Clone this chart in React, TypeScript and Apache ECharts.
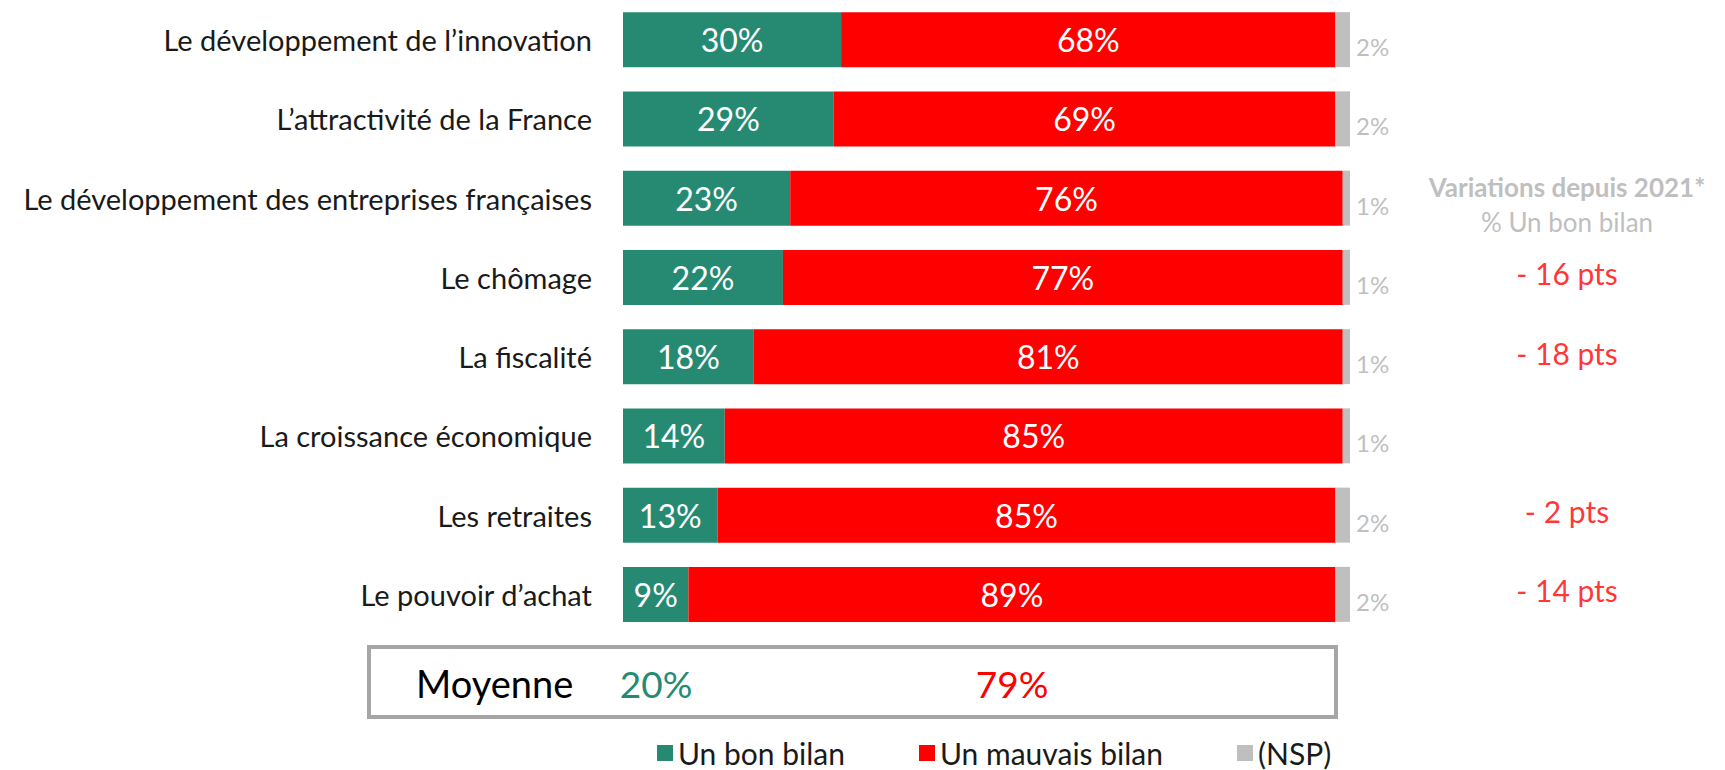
import React, { useEffect, useRef } from "react";
import * as echarts from "echarts";

const categories = [
  "Le développement de l’innovation",
  "L’attractivité de la France",
  "Le développement des entreprises françaises",
  "Le chômage",
  "La fiscalité",
  "La croissance économique",
  "Les retraites",
  "Le pouvoir d’achat",
];
const goodValues = [30, 29, 23, 22, 18, 14, 13, 9];
const badValues = [68, 69, 76, 77, 81, 85, 85, 89];
const nspValues = [2, 2, 1, 1, 1, 1, 2, 2];
const variationValues: (number | null)[] = [null, null, null, -16, -18, null, -2, -14];
const seriesNames = ["Un bon bilan", "Un mauvais bilan", "(NSP)"];
const averageLabel = "Moyenne";
const averageGood = 20;
const averageBad = 79;
const variationTitle = "Variations depuis 2021*";
const variationSubtitle = "% Un bon bilan";

const GREEN = "#268A73";
const RED = "#FF0000";
const GRAY = "#BFBFBF";
const FONT = "Lato";

export default function App() {
  const ref = useRef<HTMLDivElement>(null);
  useEffect(() => {
    if (!ref.current) return;
    const chart = echarts.init(ref.current, null, { renderer: "svg" });
    const variationData = variationValues
      .map((v, i) => (v == null ? null : [0, i, v]))
      .filter((d) => d != null);
    const option: any = {
      animation: false,
      textStyle: { fontFamily: FONT },
      grid: [
        { left: 623, width: 727, top: 0, height: 634, outerBoundsMode: "none" },
        { left: 1417, width: 300, top: 0, height: 634, outerBoundsMode: "none" },
      ],
      xAxis: [
        { type: "value", min: 0, max: 100, show: false, gridIndex: 0 },
        { type: "value", min: -1, max: 1, show: false, gridIndex: 1 },
      ],
      yAxis: [
        {
          type: "category",
          data: categories,
          inverse: true,
          gridIndex: 0,
          axisLine: { show: false },
          axisTick: { show: false },
          axisLabel: { fontFamily: FONT, fontSize: 29, color: "#1a1a1a", margin: 31 },
        },
        { type: "category", data: categories, inverse: true, gridIndex: 1, show: false },
      ],
      legend: {
        data: seriesNames,
        left: 652,
        top: 736,
        padding: [0, 5],
        icon: "rect",
        itemWidth: 16,
        itemHeight: 16,
        itemGap: 74,
        textStyle: { fontFamily: FONT, fontSize: 30, color: "#1a1a1a", lineHeight: 34 },
      },
      series: [
        {
          name: seriesNames[0],
          type: "bar",
          stack: "total",
          data: goodValues,
          barWidth: 55,
          itemStyle: { color: GREEN },
          label: {
            show: true,
            position: "inside",
            formatter: "{c}%",
            color: "#fff",
            fontFamily: FONT,
            fontSize: 32,
          },
        },
        {
          name: seriesNames[1],
          type: "bar",
          stack: "total",
          data: badValues,
          barWidth: 55,
          itemStyle: { color: RED },
          label: {
            show: true,
            position: "inside",
            formatter: "{c}%",
            color: "#fff",
            fontFamily: FONT,
            fontSize: 32,
          },
        },
        {
          name: seriesNames[2],
          type: "bar",
          stack: "total",
          data: nspValues,
          barWidth: 55,
          itemStyle: { color: GRAY },
          label: {
            show: true,
            position: "right",
            distance: 6,
            offset: [0, 7],
            formatter: "{c}%",
            color: GRAY,
            fontFamily: FONT,
            fontSize: 24,
          },
        },
        {
          type: "scatter",
          xAxisIndex: 1,
          yAxisIndex: 1,
          symbolSize: 0,
          data: variationData,
          label: {
            show: true,
            position: "inside",
            offset: [0, -4],
            formatter: (p: any) => `- ${Math.abs(p.value[2])} pts`,
            color: RED,
            fontFamily: FONT,
            fontSize: 30,
          },
        },
      ],
      graphic: [
        {
          type: "text",
          x: 1567,
          y: 187,
          style: {
            text: variationTitle,
            fill: GRAY,
            font: `bold 26px ${FONT}`,
            align: "center",
            verticalAlign: "middle",
          },
        },
        {
          type: "text",
          x: 1567,
          y: 222,
          style: {
            text: variationSubtitle,
            fill: GRAY,
            font: `26px ${FONT}`,
            align: "center",
            verticalAlign: "middle",
          },
        },
        {
          type: "rect",
          shape: { x: 369, y: 647, width: 967, height: 70 },
          style: { fill: "#fff", stroke: "#A6A6A6", lineWidth: 4 },
        },
        {
          type: "text",
          x: 416,
          y: 683,
          style: {
            text: averageLabel,
            fill: "#000",
            font: `38px ${FONT}`,
            align: "left",
            verticalAlign: "middle",
          },
        },
        {
          type: "text",
          x: 656,
          y: 683,
          style: {
            text: `${averageGood}%`,
            fill: GREEN,
            font: `37px ${FONT}`,
            align: "center",
            verticalAlign: "middle",
          },
        },
        {
          type: "text",
          x: 1012,
          y: 683,
          style: {
            text: `${averageBad}%`,
            fill: RED,
            font: `37px ${FONT}`,
            align: "center",
            verticalAlign: "middle",
          },
        },
      ],
    };
    chart.setOption(option);
    return () => chart.dispose();
  }, []);
  return (
    <div
      ref={ref}
      style={{ position: "absolute", left: 0, top: 0, width: 1725, height: 770 }}
    />
  );
}
